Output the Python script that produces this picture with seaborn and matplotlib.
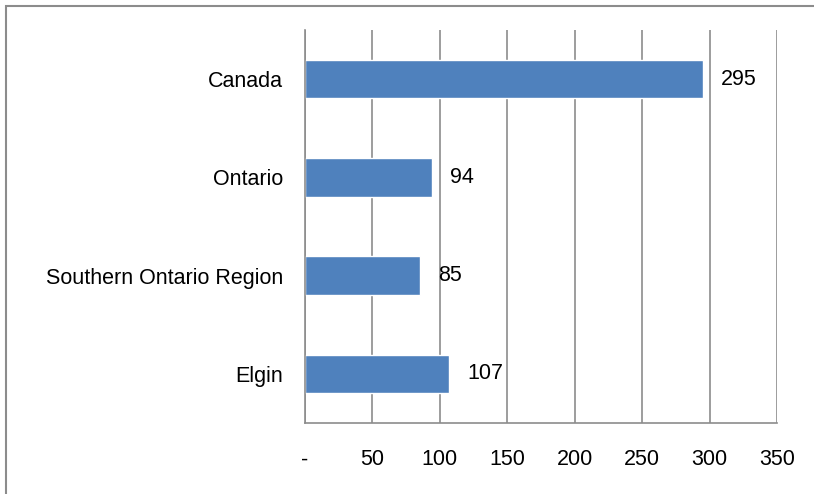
import matplotlib
matplotlib.use("Agg")
import matplotlib.pyplot as plt
import matplotlib.patches as mpatches
import seaborn as sns
import pandas as pd

# Données du graphique
regioes = ["Canada", "Ontario", "Southern Ontario Region", "Elgin"]
valores = [295, 94, 85, 107]
ticks_x = [0, 50, 100, 150, 200, 250, 300, 350]
rotulos_x = ["-", "50", "100", "150", "200", "250", "300", "350"]

df = pd.DataFrame({"REGIAO": regioes, "VALOR": valores})

sns.set_style("white")
plt.rcParams["font.family"] = ["Liberation Sans", "DejaVu Sans"]

fig = plt.figure(figsize=(8.14, 4.94), dpi=100)
ax = fig.add_axes([305 / 814, 1 - 423 / 494, 472 / 814, 393 / 494])

sns.barplot(data=df, y="REGIAO", x="VALOR", color="#4F81BD", saturation=1,
            width=0.39, orient="h", ax=ax)

# grelha vertical
ax.set_xlim(0, 350)
ax.set_xticks(ticks_x)
ax.set_xticklabels(rotulos_x, fontsize=15.5, color="black")
ax.xaxis.grid(True, color="#8c8c8c", linewidth=1.2)
ax.set_axisbelow(True)
ax.tick_params(axis="x", length=0, pad=19)
ax.tick_params(axis="y", length=0, pad=16, labelsize=15.5, labelcolor="black")
ax.set_xlabel("")
ax.set_ylabel("")

for lado in ["top", "right"]:
    ax.spines[lado].set_visible(False)
for lado in ["left", "bottom"]:
    ax.spines[lado].set_color("#8c8c8c")
    ax.spines[lado].set_linewidth(1.2)

# rótulos de valores
for i, v in enumerate(valores):
    ax.annotate(str(v), xy=(v, i), xytext=(13, 0), textcoords="offset points",
                va="center", ha="left", fontsize=15.5, color="black")

# moldura exterior
fig.patches.append(mpatches.Rectangle((6 / 814, -0.5), 2, 1.5 - 6 / 494,
                                      transform=fig.transFigure, fill=False,
                                      edgecolor="#8c8c8c", linewidth=1.5))

fig.savefig("out.png", dpi=100)
